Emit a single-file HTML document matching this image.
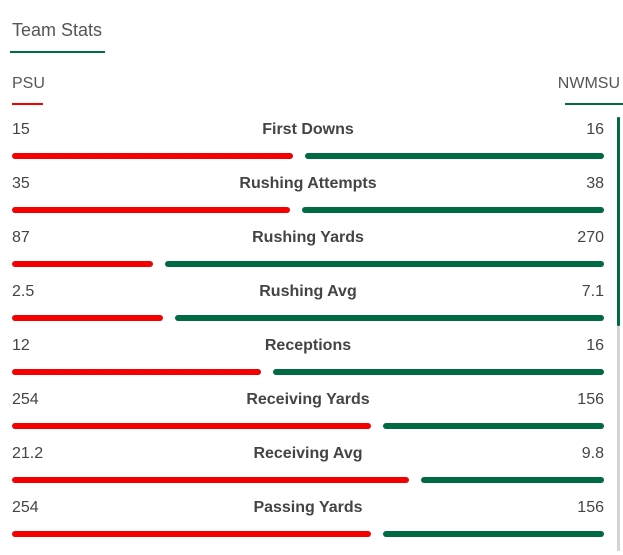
<!DOCTYPE html>
<html><head><meta charset="utf-8"><style>
body{margin:0;width:623px;height:555px;background:#fff;font-family:"Liberation Sans",sans-serif;color:#444;position:relative;overflow:hidden}
.a{position:absolute;white-space:nowrap}
.n{font-size:16px;line-height:20px;margin-top:2px}
.c{font-size:16px;font-weight:bold;line-height:20px;left:0;width:616px;text-align:center;margin-top:2px}
.r{right:19px;text-align:right}
.b{position:absolute;height:6px;border-radius:3px}
.red{background:#f40000}.grn{background:#006a45}
</style></head><body>
<div class="a" style="left:12px;top:19px;font-size:18px;line-height:22px;color:#555">Team Stats</div>
<div class="b grn" style="left:10px;top:51px;width:95px;height:2px;border-radius:0"></div>
<div class="a n" style="left:12px;top:72px;color:#555">PSU</div>
<div class="b red" style="left:12px;top:103px;width:31px;height:2px;border-radius:0"></div>
<div class="a n" style="right:3px;top:72px;color:#555">NWMSU</div>
<div class="b grn" style="left:565px;top:103px;width:58px;height:2px;border-radius:0"></div>
<div class="b grn" style="left:617px;top:117px;width:3px;height:209px;border-radius:1px"></div>
<div class="b" style="left:617px;top:326px;width:3px;height:225px;background:#d4d4d4;border-radius:1px"></div>

<div class="a n" style="left:12px;top:118px">15</div><div class="a c" style="top:118px">First Downs</div><div class="a n r" style="top:118px">16</div>
<div class="b red" style="left:12px;top:153px;width:281px"></div><div class="b grn" style="left:305px;top:153px;width:299px"></div>

<div class="a n" style="left:12px;top:172px">35</div><div class="a c" style="top:172px">Rushing Attempts</div><div class="a n r" style="top:172px">38</div>
<div class="b red" style="left:12px;top:207px;width:278px"></div><div class="b grn" style="left:302px;top:207px;width:302px"></div>

<div class="a n" style="left:12px;top:226px">87</div><div class="a c" style="top:226px">Rushing Yards</div><div class="a n r" style="top:226px">270</div>
<div class="b red" style="left:12px;top:261px;width:141px"></div><div class="b grn" style="left:165px;top:261px;width:439px"></div>

<div class="a n" style="left:12px;top:280px">2.5</div><div class="a c" style="top:280px">Rushing Avg</div><div class="a n r" style="top:280px">7.1</div>
<div class="b red" style="left:12px;top:315px;width:151px"></div><div class="b grn" style="left:175px;top:315px;width:429px"></div>

<div class="a n" style="left:12px;top:334px">12</div><div class="a c" style="top:334px">Receptions</div><div class="a n r" style="top:334px">16</div>
<div class="b red" style="left:12px;top:369px;width:249px"></div><div class="b grn" style="left:273px;top:369px;width:331px"></div>

<div class="a n" style="left:12px;top:388px">254</div><div class="a c" style="top:388px">Receiving Yards</div><div class="a n r" style="top:388px">156</div>
<div class="b red" style="left:12px;top:423px;width:359px"></div><div class="b grn" style="left:383px;top:423px;width:221px"></div>

<div class="a n" style="left:12px;top:442px">21.2</div><div class="a c" style="top:442px">Receiving Avg</div><div class="a n r" style="top:442px">9.8</div>
<div class="b red" style="left:12px;top:477px;width:397px"></div><div class="b grn" style="left:421px;top:477px;width:183px"></div>

<div class="a n" style="left:12px;top:496px">254</div><div class="a c" style="top:496px">Passing Yards</div><div class="a n r" style="top:496px">156</div>
<div class="b red" style="left:12px;top:531px;width:359px"></div><div class="b grn" style="left:383px;top:531px;width:221px"></div>
</body></html>
